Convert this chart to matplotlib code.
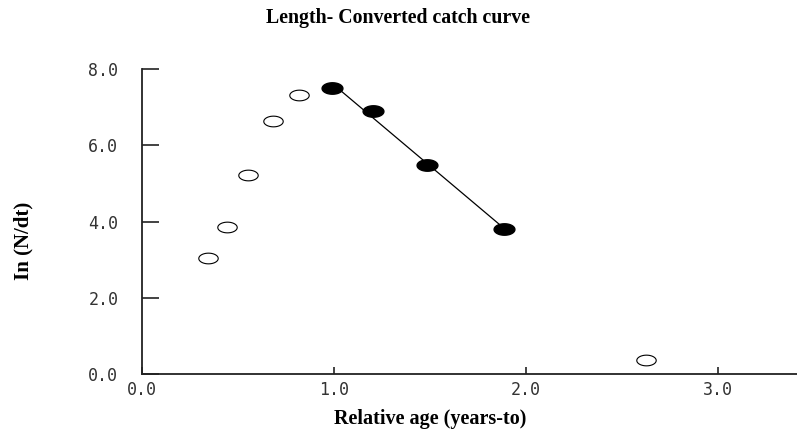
import numpy as np
import matplotlib.pyplot as plt
from matplotlib.path import Path

# points not used in the regression (open markers)
open_age = [0.344, 0.443, 0.552, 0.682, 0.818, 2.625]
open_lnN = [3.05, 3.86, 5.22, 6.64, 7.32, 0.37]

# points used in the regression (filled markers)
fit_age = [0.99, 1.203, 1.483, 1.885]
fit_lnN = [7.51, 6.91, 5.48, 3.81]

yticks = [0.0, 2.0, 4.0, 6.0, 8.0]
xticks = [0.0, 1.0, 2.0, 3.0]

# squashed ellipse marker (the original picture is stretched sideways)
t = np.linspace(0, 2 * np.pi, 41)
ellipse = Path(np.column_stack([np.cos(t), 0.55 * np.sin(t)]), closed=True)

plt.rcParams['font.family'] = ['DejaVu Sans Mono']

fig = plt.figure(figsize=(7.97, 4.38), dpi=100)
ax = fig.add_axes([0.178, 0.146, 0.822, 0.696])

ax.plot(open_age, open_lnN, linestyle="none", marker=ellipse, markersize=14,
        markerfacecolor="white", markeredgecolor="black", markeredgewidth=0.8)

slope, intercept = np.polyfit(fit_age, fit_lnN, 1)
xl = np.array([min(fit_age), max(fit_age)])
ax.plot(xl, slope * xl + intercept, color="black", lw=0.9)

ax.plot(fit_age, fit_lnN, linestyle="none", marker=ellipse, markersize=15,
        markerfacecolor="black", markeredgecolor="black")

ax.set_xlim(0, 3.41)
ax.set_ylim(0, 8)
ax.set_xticks(xticks)
ax.set_yticks(yticks)
ax.set_xticklabels([f"{v:.1f}" for v in xticks])
ax.set_yticklabels([f"{v:.1f}" for v in yticks])

for s in ["top", "right"]:
    ax.spines[s].set_visible(False)
for s in ["left", "bottom"]:
    ax.spines[s].set_linewidth(1.3)
    ax.spines[s].set_color("#222222")

ax.tick_params(axis="y", direction="in", length=12, width=1.2, pad=17,
               labelsize=12, labelcolor="#333333", color="#222222")
ax.tick_params(axis="x", direction="in", length=5, width=1.2, pad=5,
               labelsize=12, labelcolor="#333333", color="#222222")

fig.text(0.5, 0.958, "Length- Converted catch curve", ha="center", va="center",
         fontsize=14.3, fontweight="bold", family="Liberation Serif")
fig.text(0.54, 0.043, "Relative age (years-to)", ha="center", va="center",
         fontsize=14.5, fontweight="bold", family="Liberation Serif")
fig.text(0.029, 0.449, "In (N/dt)", ha="center", va="center", rotation=90,
         fontsize=15, fontweight="bold", family="Liberation Serif")

fig.savefig("out.png", dpi=100)
